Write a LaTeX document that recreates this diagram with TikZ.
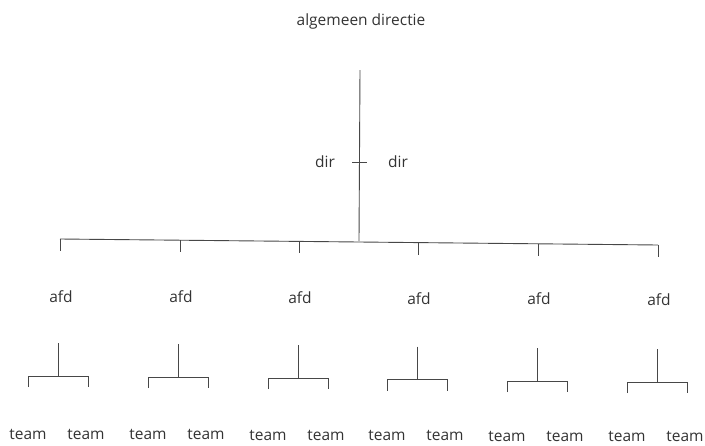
\documentclass[tikz,border=0pt]{standalone}
\usepackage{fontspec}
\setmainfont{Open Sans}
\begin{document}
\begin{tikzpicture}[x=1pt,y=-1pt,
  lbl/.style={inner sep=0pt,anchor=base,text=black!80,font=\fontsize{15.5}{18}\selectfont},
  ln/.style={draw=black!72,line width=0.9pt}]
\useasboundingbox (0,0) rectangle (705,445);
% top
\node[lbl] (top) at (361,25) {algemeen directie};
\coordinate (mtop) at (360,70);
\coordinate (mbot) at (359,241);
\draw[ln] (mtop) -- (mbot);
\coordinate (tl) at (352,162);
\coordinate (tr) at (367,162);
\draw[ln] (tl) -- (tr);
\node[lbl] (dirl) at (325,167) {dir};
\node[lbl] (dirr) at (398,167) {dir};
% bar
\coordinate (b0) at (60,239);
\coordinate (b5) at (658,245);
\draw[ln] (b0) -- (b5);
\foreach \i/\x/\by/\ay/\c/\ky/\ty in {0/60/239/302/58/376/439,1/180/240/302.5/178/377/439.5,2/299/241/303/298/378/440,3/418/242.5/304/417/379.5/440.5,4/538/244/304.5/537/381/441,5/658/245/305/657/382/441}{
  \coordinate (t\i) at (\x,\by);
  \coordinate (tb\i) at (\x,\by+12);
  \draw[ln] (t\i) -- (tb\i);
  \node[lbl] (afd\i) at (\x+1,\ay) {afd};
  \coordinate (s\i) at (\c,\ky-33);
  \coordinate (k\i) at (\c,\ky);
  \coordinate (kl\i) at (\c-30,\ky);
  \coordinate (kr\i) at (\c+30,\ky);
  \coordinate (kld\i) at (\c-30,\ky+11);
  \coordinate (krd\i) at (\c+30,\ky+11);
  \draw[ln] (s\i) -- (k\i);
  \draw[ln] (kld\i) -- (kl\i) -- (kr\i) -- (krd\i);
  \node[lbl] (teaml\i) at (\c-30,\ty) {team};
  \node[lbl] (teamr\i) at (\c+28,\ty) {team};
}
\end{tikzpicture}
\end{document}
